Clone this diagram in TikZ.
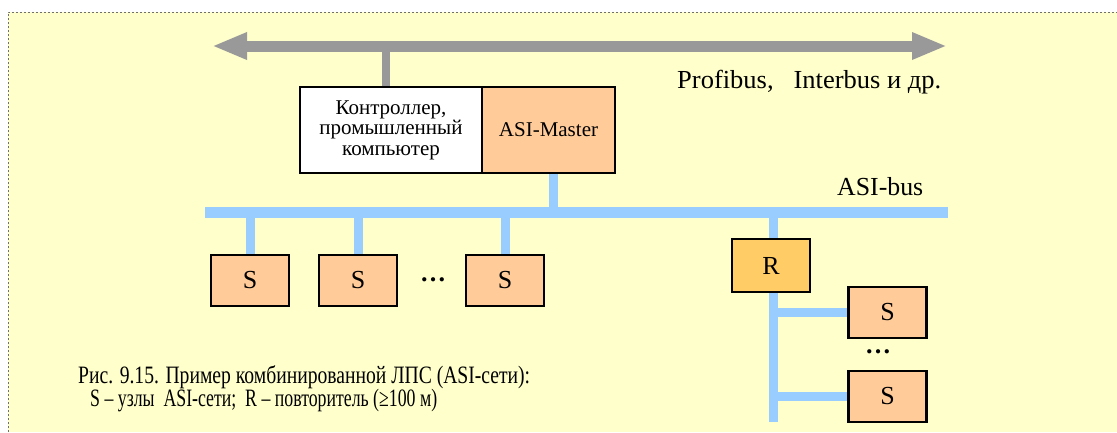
\documentclass[tikz,border=0pt]{standalone}
\usepackage{fontspec}
\setmainfont{Liberation Serif}
\usetikzlibrary{arrows.meta}
\definecolor{panel}{HTML}{FFFFCC}
\definecolor{panelrule}{HTML}{707070}
\definecolor{trunk}{HTML}{999999}
\definecolor{asiblue}{HTML}{99CCFF}
\definecolor{slave}{HTML}{FFCC99}
\definecolor{repeater}{HTML}{FFCC66}
% stretch or squeeze a text to a given width, keeping its height
\newcommand\fitto[2]{\resizebox{#1}{\height}{#2}}
\tikzset{
  unitbox/.style={draw=black, line width=2.7pt, rectangle, inner sep=0pt, align=center},
  slavebox/.style={unitbox, fill=slave, minimum width=78pt, minimum height=51pt,
                   font=\fontsize{26}{28}\selectfont},
  asiline/.style={draw=asiblue, line width=9pt},
  label/.style={inner sep=0pt, anchor=base west},
}
\begin{document}
\begin{tikzpicture}[x=1pt, y=-1pt]
\useasboundingbox (0,0) rectangle (1117,432);
% panel
\fill[panel] (8,12) rectangle (1117,432);
\draw[panelrule, line width=1pt, dash pattern=on 2pt off 2pt] (8,432) -- (8,12) -- (1117,12);

% upper-level field bus
\coordinate (fbL) at (212,46);
\coordinate (fbR) at (947,46);
\draw[trunk, line width=11pt, {Triangle[length=35pt,width=25pt]}-{Triangle[length=35pt,width=25pt]}] (fbL) -- (fbR);
\node[label, font=\fontsize{26}{28}\selectfont] (fbtext) at (677,88) {\fitto{264pt}{Profibus,\ \ \ Interbus и др.}};

% controller with ASI master
\node[unitbox, fill=white, minimum width=182pt, minimum height=86pt,
      font=\fontsize{21}{20.5}\selectfont] (ctrl) at (391,130)
      {Контроллер,\\промышленный\\компьютер};
\node[unitbox, fill=slave, minimum width=133pt, minimum height=86pt,
      font=\fontsize{21}{22}\selectfont] (master) at (548.5,130) {ASI-Master};
\coordinate (ctrltap) at (386,46);
\draw[trunk, line width=8pt] (ctrltap) -- (ctrltap |- ctrl.north);

% ASI bus
\coordinate (busL) at (205,212.5);
\coordinate (busR) at (948,212.5);
\draw[asiblue, line width=11pt] (busL) -- (busR);
\node[label, font=\fontsize{26}{28}\selectfont] (bustext) at (837,195) {\fitto{86pt}{ASI-bus}};
\draw[asiline] ([xshift=5pt]master.south) -- ([xshift=5pt]master.south |- busL);

% slaves on the main segment
\node[slavebox] (s1) at (250,280.5) {S};
\node[slavebox] (s2) at (358,280.5) {S};
\node[slavebox] (s3) at (505,280.5) {S};
\foreach \s in {s1,s2,s3}
  \draw[asiline] (\s.north) -- (\s.north |- busL);
\node[inner sep=0pt, font=\fontsize{26}{28}\selectfont\bfseries] (dots1) at (433,280) {…};

% repeater and the extended segment
\node[unitbox, fill=repeater, minimum width=78pt, minimum height=53pt,
      font=\fontsize{26}{28}\selectfont] (rep) at (771,265.5) {R};
\node[slavebox] (s4) at (887.5,312.5) {S};
\node[slavebox] (s5) at (887.5,396.5) {S};
\coordinate (segend) at (773,422);
\draw[asiline] ([xshift=2pt]rep.north) -- ([xshift=2pt]rep.north |- busL);
\draw[asiline] ([xshift=2pt]rep.south) -- (segend);
\draw[asiline] (s4.west -| segend) -- (s4.west);
\draw[asiline] (s5.west -| segend) -- (s5.west);
\node[inner sep=0pt, font=\fontsize{26}{28}\selectfont\bfseries] (dots2) at (878,352) {…};

% caption
\node[label, font=\fontsize{25}{26}\selectfont] (cap1) at (78,383)
  {\fitto{452pt}{Рис. 9.15. Пример комбинированной ЛПС (ASI-сети):}};
\node[label, font=\fontsize{25}{26}\selectfont] (cap2) at (90,406)
  {\fitto{347pt}{S – узлы\ \ ASI-сети;\ \ R – повторитель (≥100 м)}};
\end{tikzpicture}
\end{document}
